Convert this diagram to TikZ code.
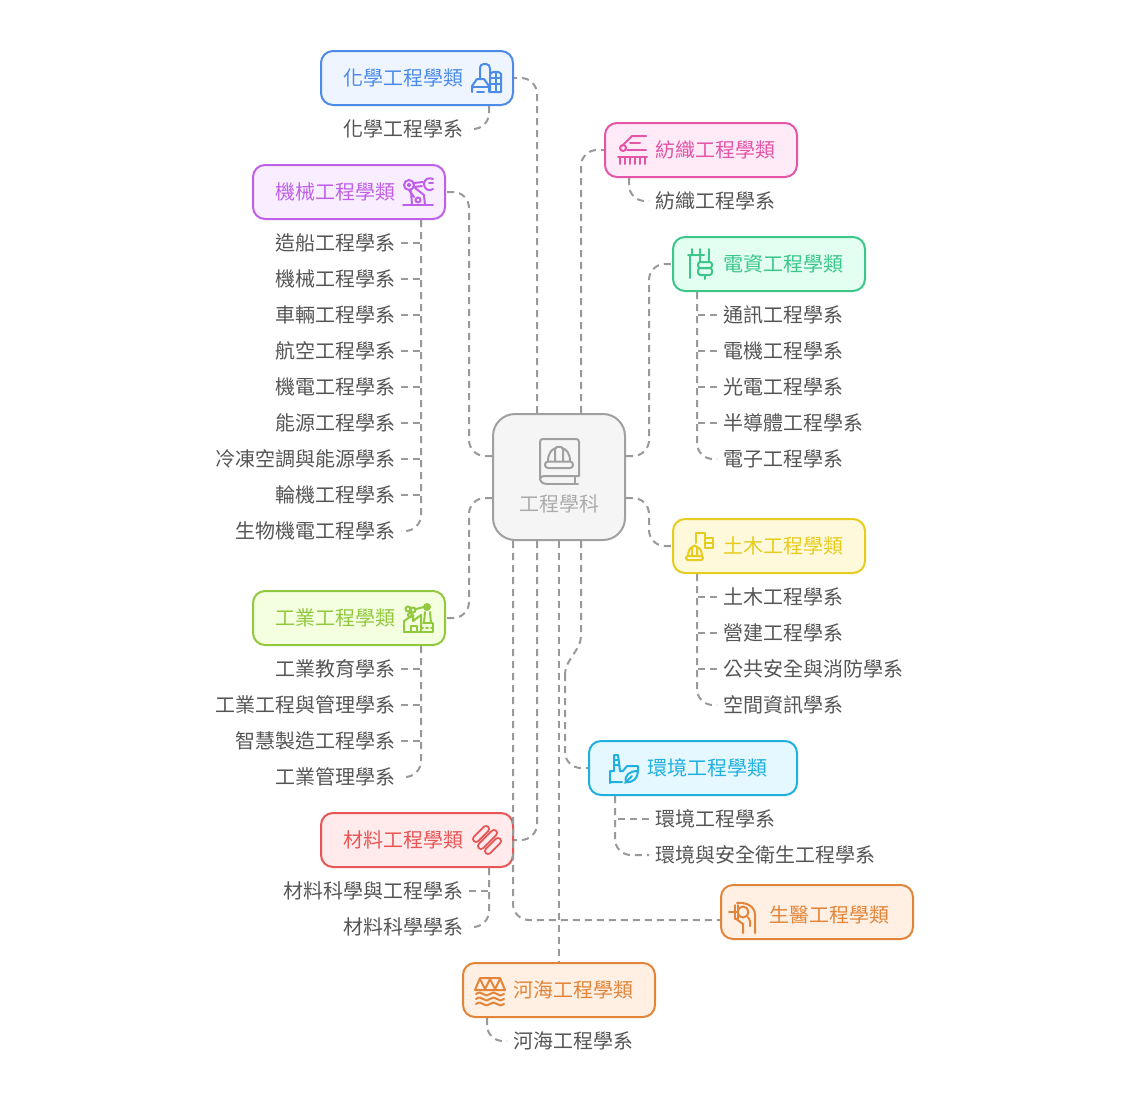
\documentclass[tikz,border=0pt]{standalone}
\usepackage{fontspec}
\setmainfont{Noto Sans CJK TC}
\definecolor{cBlue}{HTML}{4C8BE8}\definecolor{fBlue}{HTML}{EFF5FF}
\definecolor{cPink}{HTML}{E455A8}\definecolor{fPink}{HTML}{FFEBF7}
\definecolor{cGreen}{HTML}{3CC68A}\definecolor{fGreen}{HTML}{E3FFF1}
\definecolor{cPurple}{HTML}{C060E8}\definecolor{fPurple}{HTML}{F9EEFF}
\definecolor{cLime}{HTML}{92C83E}\definecolor{fLime}{HTML}{F4FFDF}
\definecolor{cYellow}{HTML}{E6CC1E}\definecolor{fYellow}{HTML}{FFF9DB}
\definecolor{cCyan}{HTML}{1FB0E0}\definecolor{fCyan}{HTML}{E6F8FF}
\definecolor{cRed}{HTML}{E85555}\definecolor{fRed}{HTML}{FFEBEB}
\definecolor{cOrange}{HTML}{E2853A}\definecolor{fOrange}{HTML}{FFF0E3}
\definecolor{cRoot}{HTML}{A0A0A0}\definecolor{fRoot}{HTML}{F5F5F5}
\definecolor{tRoot}{HTML}{ABABAB}
\definecolor{cLink}{HTML}{999999}\definecolor{tLeaf}{HTML}{555555}
\tikzset{
  catbox/.style n args={2}{draw=#1,fill=#2,line width=2pt,rounded corners=12pt,minimum width=192pt,minimum height=54pt,inner sep=0pt},
  catlabel/.style={text=#1,font=\fontsize{20pt}{24pt}\selectfont,inner sep=0pt,text height=17.6pt,text depth=2.4pt,anchor=west},
  leaf/.style={text=tLeaf,font=\fontsize{20pt}{24pt}\selectfont,inner ysep=0pt,inner xsep=6pt,text height=17.6pt,text depth=2.4pt},
  leafL/.style={leaf,anchor=east,inner xsep=5pt},
  leafR/.style={leaf,anchor=west},
  link/.style={draw=cLink,line width=2pt,dash pattern=on 7pt off 5pt,rounded corners=16pt},
  ico/.style={draw=#1,line width=2pt,line cap=round,line join=round}
}
\begin{document}
\begin{tikzpicture}[x=1pt,y=-1pt]
\useasboundingbox (0,0) rectangle (1130,1100);
% root
\node[draw=cRoot,fill=fRoot,line width=2pt,rounded corners=22pt,minimum width=132pt,minimum height=126pt,inner sep=0pt] (root) at (559,477) {};
\node[catlabel=tRoot,anchor=center] (rootT) at (559,504) {工程學科};
% category boxes
\node[catbox={cBlue}{fBlue}] (chem) at (417,78) {};
\node[catlabel=cBlue] (chemT) at (343,78) {化學工程學類};
\node[catbox={cPink}{fPink}] (text) at (701,150) {};
\node[catlabel=cPink] (textT) at (655,150) {紡織工程學類};
\node[catbox={cGreen}{fGreen}] (eeng) at (769,264) {};
\node[catlabel=cGreen] (eengT) at (723,264) {電資工程學類};
\node[catbox={cPurple}{fPurple}] (mech) at (349,192) {};
\node[catlabel=cPurple] (mechT) at (275,192) {機械工程學類};
\node[catbox={cLime}{fLime}] (indu) at (349,618) {};
\node[catlabel=cLime] (induT) at (275,618) {工業工程學類};
\node[catbox={cYellow}{fYellow}] (civil) at (769,546) {};
\node[catlabel=cYellow] (civilT) at (723,546) {土木工程學類};
\node[catbox={cCyan}{fCyan},minimum width=208pt] (envi) at (693,768) {};
\node[catlabel=cCyan] (enviT) at (647,768) {環境工程學類};
\node[catbox={cRed}{fRed}] (mate) at (417,840) {};
\node[catlabel=cRed] (mateT) at (343,840) {材料工程學類};
\node[catbox={cOrange}{fOrange}] (bio) at (817,912) {};
\node[catlabel=cOrange] (bioT) at (769,915) {生醫工程學類};
\node[catbox={cOrange}{fOrange}] (river) at (559,990) {};
\node[catlabel=cOrange] (riverT) at (513,990) {河海工程學類};
% leaves
\node[leafL] (l1) at (469,129) {化學工程學系};
\node[leafR] (l2) at (649,201) {紡織工程學系};
\node[leafR] (e1) at (717,315) {通訊工程學系};
\node[leafR] (e2) at (717,351) {電機工程學系};
\node[leafR] (e3) at (717,387) {光電工程學系};
\node[leafR] (e4) at (717,423) {半導體工程學系};
\node[leafR] (e5) at (717,459) {電子工程學系};
\node[leafL] (m1) at (401,243) {造船工程學系};
\node[leafL] (m2) at (401,279) {機械工程學系};
\node[leafL] (m3) at (401,315) {車輛工程學系};
\node[leafL] (m4) at (401,351) {航空工程學系};
\node[leafL] (m5) at (401,387) {機電工程學系};
\node[leafL] (m6) at (401,423) {能源工程學系};
\node[leafL] (m7) at (401,459) {冷凍空調與能源學系};
\node[leafL] (m8) at (401,495) {輪機工程學系};
\node[leafL] (m9) at (401,531) {生物機電工程學系};
\node[leafL] (i1) at (401,669) {工業教育學系};
\node[leafL] (i2) at (401,705) {工業工程與管理學系};
\node[leafL] (i3) at (401,741) {智慧製造工程學系};
\node[leafL] (i4) at (401,777) {工業管理學系};
\node[leafR] (c1) at (717,597) {土木工程學系};
\node[leafR] (c2) at (717,633) {營建工程學系};
\node[leafR] (c3) at (717,669) {公共安全與消防學系};
\node[leafR] (c4) at (717,705) {空間資訊學系};
\node[leafR] (v1) at (649,819) {環境工程學系};
\node[leafR] (v2) at (649,855) {環境與安全衛生工程學系};
\node[leafL] (t1) at (469,891) {材料科學與工程學系};
\node[leafL] (t2) at (469,927) {材料科學學系};
\node[leafR] (r1) at (507,1041) {河海工程學系};
% trunks of the leaf groups
\coordinate (eengTr) at ([xshift=-72pt]eeng.south);
\coordinate (mechTr) at ([xshift=72pt]mech.south);
\coordinate (induTr) at ([xshift=72pt]indu.south);
\coordinate (civilTr) at ([xshift=-72pt]civil.south);
\coordinate (enviTr) at ([xshift=-78pt]envi.south);
\coordinate (mateTr) at ([xshift=72pt]mate.south);
% root links
\draw[link] ([xshift=-22pt]root.north) |- (chem.east);
\draw[link] ([xshift=22pt]root.north) |- (text.west);
\draw[link] ([yshift=21pt]root.east) -- ++(23,0) |- (eeng.west);
\draw[link] ([yshift=-21pt]root.east) -- ++(23,0) |- (civil.west);
\draw[link] ([yshift=21pt]root.west) -- ++(-23,0) |- (mech.east);
\draw[link] ([yshift=-21pt]root.west) -- ++(-23,0) |- (indu.east);
\draw[link] ([xshift=-22pt]root.south) |- (mate.east);
\draw[link] ([xshift=-46pt]root.south) |- ([yshift=-8pt]bio.west);
\draw[link] (root.south) -- (river.north);
\coordinate (bendA) at ([xshift=22pt,yshift=-95pt]root.south);
\coordinate (bendB) at ([xshift=6pt,yshift=-133pt]root.south);
\draw[link,rounded corners=0pt] ([xshift=22pt]root.south) -- (bendA) .. controls ([yshift=-14pt]bendA) and ([yshift=14pt]bendB) .. (bendB);
\draw[link] (bendB) |- (envi.west);
% leaf links
\draw[link] ([xshift=72pt]chem.south) |- (l1.east);
\draw[link] ([xshift=-72pt]text.south) |- (l2.west);
\draw[link] (eengTr) |- (e5.west);
\foreach \n in {e1,e2,e3,e4} \draw[link] (\n.west) -- (\n.west -| eengTr);
\draw[link] (mechTr) |- (m9.east);
\foreach \n in {m1,m2,m3,m4,m5,m6,m7,m8} \draw[link] (\n.east) -- (\n.east -| mechTr);
\draw[link] (induTr) |- (i4.east);
\foreach \n in {i1,i2,i3} \draw[link] (\n.east) -- (\n.east -| induTr);
\draw[link] (civilTr) |- (c4.west);
\foreach \n in {c1,c2,c3} \draw[link] (\n.west) -- (\n.west -| civilTr);
\draw[link] (enviTr) |- (v2.west);
\draw[link] (v1.west) -- (v1.west -| enviTr);
\draw[link] (mateTr) |- (t2.east);
\draw[link] (t1.east) -- (t1.east -| mateTr);
\draw[link] ([xshift=-72pt]river.south) |- (r1.west);
% root icon
\begin{scope}[ico=cRoot]
\draw (547,484) .. controls (541,484) and (540,480) .. (540,478) -- (540,442) .. controls (540,440) and (541,439) .. (543,439) -- (576,439) .. controls (578,439) and (579,440) .. (579,442) -- (579,476) -- (546,476) .. controls (542,476) and (540,477) .. (540,479);
\draw (547,484) -- (578,484) (575,477) -- (575,484);
\draw (548,461) .. controls (548,453) and (552,449) .. (556,448) (562,448) .. controls (566,449) and (570,453) .. (570,461);
\draw (555,461) -- (555,449) .. controls (555,446) and (563,446) .. (563,449) -- (563,461);
\draw[rounded corners=3pt] (545,461.5) rectangle (573,468);
\end{scope}
% chem icon
\begin{scope}[ico=cBlue]
\draw (472,92) -- (472,86) -- (477,79) -- (484,79) -- (489,86) -- (489,92);
\draw (472,87) -- (489,87) (477,92) -- (484,92);
\draw (480,79) -- (480,69) .. controls (480,65) and (482,64) .. (484,64) -- (486,64) .. controls (489,64) and (490,66) .. (490,69) -- (490,92);
\draw (490,74) .. controls (492,71) and (500,71) .. (501,74) -- (501,92) -- (490,92);
\draw (495.5,72) -- (495.5,92) (490,78) -- (501,78) (490,84) -- (501,84);
\end{scope}
% textile icon
\begin{scope}[ico=cPink]
\draw (646,136) -- (632,136) -- (622,146);
\draw (630,143) -- (640,143) (627,150) -- (646,150) (618,157) -- (647,157);
\draw (623,148) circle[radius=3];
\foreach \x in {620,625,630,635,640,645} \draw (\x,158) -- (\x,164);
\end{scope}
% electric icon
\begin{scope}[ico=cGreen]
\draw (692,249) -- (692,254) (700,249) -- (700,254) (688,255) -- (704,255);
\draw (690,255) -- (690,278) (709,249) -- (709,262) (700,255) -- (700,262);
\draw[rounded corners=2.5pt] (698,262) rectangle (712,268);
\draw[rounded corners=2.5pt] (698,268) rectangle (712,275);
\draw (705,275) -- (705,279);
\end{scope}
% robot icon
\begin{scope}[ico=cPurple]
\draw (403,205) -- (433,205);
\draw (409,185) circle[radius=5];
\draw (409,185) circle[radius=1.3];
\draw (418,200) circle[radius=2.5];
\draw (411,191) -- (412,205) (409,190) -- (414,197) (415,188) -- (424,195) -- (425,205);
\draw (414,183) -- (423,182) (414,187) -- (422,186);
\draw (433,179) .. controls (429,177) and (424,179) .. (424,184) .. controls (424,189) and (429,192) .. (433,189);
\draw (433,183) -- (429,183);
\end{scope}
% factory icon
\begin{scope}[ico=cLime]
\draw (404,632) -- (404,621) -- (413,615) -- (413,621) -- (421,615) -- (421,632);
\draw (404,632) -- (433,632) -- (433,623) -- (423,623);
\draw (424,623) -- (425,612) (431,623) -- (430,612);
\fill[cLime] (427,607) circle[radius=4];
\draw (416,609) -- (424,607);
\draw (408,609) circle[radius=2.5];
\draw (413,610) circle[radius=2.5];
\draw (410,615) circle[radius=2];
\draw (411,632) -- (411,626) -- (417,626) -- (417,632);
\draw (421,628) -- (423,628) (426,628) -- (428,628) (431,628)--(432,628);
\end{scope}
% civil icon
\begin{scope}[ico=cYellow]
\draw (696,543) -- (696,533) -- (705,533) -- (705,548) -- (713,548) -- (713,538) -- (705,538);
\draw (705,543) -- (713,543);
\draw[rounded corners=1.5pt] (686,556) rectangle (703,560);
\draw (688,556) .. controls (688,551) and (690,548) .. (692,547) (697,547) .. controls (700,548) and (702,551) .. (702,556);
\draw (692,556) -- (692,547) .. controls (693,545) and (696,545) .. (697,547) -- (697,556);
\end{scope}
% environment icon
\begin{scope}[ico=cCyan]
\draw (610,783) -- (610,771) -- (614,771) -- (614,755) -- (618,755) -- (620,771);
\draw (614,760) -- (618.5,760) (614,765) -- (619,765);
\draw (610,782) -- (622,782) (620,771) -- (623,771) -- (627,766) -- (638,766) -- (638,770);
\draw (626,782) .. controls (624,775) and (630,771) .. (638,771) .. controls (638,778) and (633,783) .. (626,782);
\draw (625,783) -- (632,776);
\end{scope}
% material icon
\begin{scope}[ico=cRed,line width=8pt]
\draw (476,839) -- (486,829);
\draw (481,846) -- (494,833);
\draw (488,851) -- (498,841);
\draw[fRed,line width=4pt] (476,839) -- (486,829);
\draw[fRed,line width=4pt] (481,846) -- (494,833);
\draw[fRed,line width=4pt] (488,851) -- (498,841);
\end{scope}
% bio icon
\begin{scope}[ico=cOrange]
\draw (743,912) circle[radius=5.5];
\draw (735,905) -- (735,919) (738,905) -- (738,919) (729,912) -- (738,912);
\draw (737,903) .. controls (746,902) and (755,906) .. (755,915) -- (755,933);
\draw (735,918) -- (743,924) -- (743,933);
\draw (748,917) -- (750,921) -- (750,926);
\end{scope}
% river icon
\begin{scope}[ico=cOrange]
\draw (475,990) -- (505,990) (480,978) -- (500,978) -- (505,990) (480,978) -- (475,990);
\draw (480,979) -- (485,989) -- (490,979) -- (495,989) -- (500,979);
\foreach \y in {994,999,1004}
  \draw (476,\y) .. controls (479,\y-2) and (481,\y-2) .. (483,\y) .. controls (485,\y+2) and (488,\y+2) .. (490,\y) .. controls (492,\y-2) and (495,\y-2) .. (497,\y) .. controls (499,\y+2) and (502,\y+2) .. (504,\y);
\end{scope}
\end{tikzpicture}
\end{document}
